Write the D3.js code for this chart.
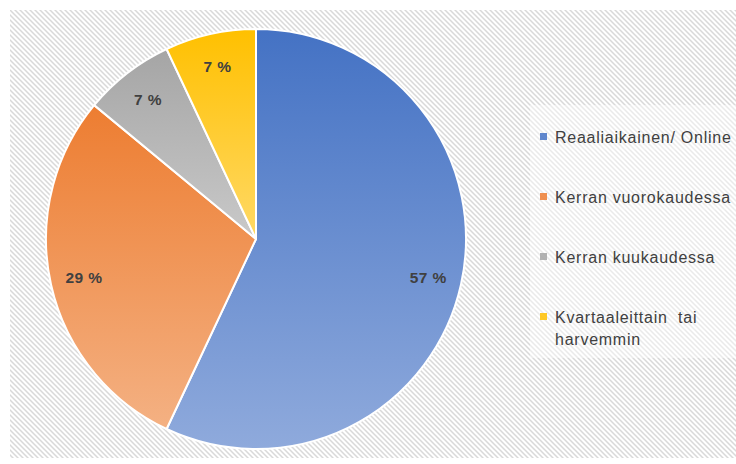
<!DOCTYPE html>
<html>
<head>
<meta charset="utf-8">
<script src="https://cdn.jsdelivr.net/npm/d3@7"></script>
<style>
  html, body { margin: 0; padding: 0; background: #ffffff; }
  svg { display: block; }
</style>
</head>
<body>
<svg id="chart" width="736" height="464"></svg>
<script>
// Reporting frequency shares
const categories = ["Reaaliaikainen/ Online", "Kerran vuorokaudessa", "Kerran kuukaudessa", "Kvartaaleittain  tai harvemmin"];
const legendLines = [["Reaaliaikainen/ Online"], ["Kerran vuorokaudessa"], ["Kerran kuukaudessa"], ["Kvartaaleittain  tai", "harvemmin"]];
const values = [57, 29, 7, 7];
const labels = ["57 %", "29 %", "7 %", "7 %"];
const topColors = ["#4472C4", "#ED7D31", "#A5A5A5", "#FFC000"];
const bottomColors = ["#8FAADC", "#F4B183", "#C9C9C9", "#FFD966"];

const svg = d3.select("#chart");
const defs = svg.append("defs");

// Diagonal hatch used for the plot background
const hatch = defs.append("pattern")
  .attr("id", "hatch")
  .attr("patternUnits", "userSpaceOnUse")
  .attr("width", 5).attr("height", 5);
hatch.append("rect").attr("width", 5).attr("height", 5).attr("fill", "#ffffff");
hatch.append("path")
  .attr("d", "M-1,-1 L6,6 M-1,4 L1,6 M4,-1 L6,1")
  .attr("stroke", "#d9d9d9").attr("stroke-width", 1.5);

// Vertical gradients, one per slice
categories.forEach((c, i) => {
  const g = defs.append("linearGradient")
    .attr("id", "grad" + i)
    .attr("x1", 0).attr("y1", 0).attr("x2", 0).attr("y2", 1);
  g.append("stop").attr("offset", "0%").attr("stop-color", topColors[i]);
  g.append("stop").attr("offset", "100%").attr("stop-color", bottomColors[i]);
});

svg.append("rect")
  .attr("x", 10).attr("y", 10).attr("width", 726).attr("height", 448)
  .attr("fill", "url(#hatch)");

const cx = 256, cy = 239, R = 210;

const pie = d3.pie().sort(null).value(d => d);
const arcs = pie(values);
const arc = d3.arc().innerRadius(0).outerRadius(R);
const labelArc = d3.arc().innerRadius(R * 0.84).outerRadius(R * 0.84);

const g = svg.append("g").attr("transform", `translate(${cx},${cy})`);

g.selectAll("path.slice")
  .data(arcs)
  .join("path")
  .attr("class", "slice")
  .attr("d", arc)
  .attr("fill", (d, i) => `url(#grad${i})`)
  .attr("stroke", "#ffffff")
  .attr("stroke-width", 2)
  .attr("stroke-linejoin", "round");

g.selectAll("text.lbl")
  .data(arcs)
  .join("text")
  .attr("class", "lbl")
  .attr("transform", d => `translate(${labelArc.centroid(d)})`)
  .attr("text-anchor", "middle")
  .attr("dy", "0.35em")
  .attr("font-family", "Liberation Sans, Arial, sans-serif")
  .attr("font-size", 15.5)
  .attr("font-weight", "bold")
  .attr("letter-spacing", 0.4)
  .attr("fill", "#404040")
  .text((d, i) => labels[i]);

// Legend
const legend = svg.append("g");
legend.append("rect")
  .attr("x", 530).attr("y", 105).attr("width", 206).attr("height", 253)
  .attr("fill", "#ffffff").attr("fill-opacity", 0.45);

const itemY = d3.scalePoint().domain(d3.range(categories.length)).range([137, 317]);

categories.forEach((c, i) => {
  const y = itemY(i);
  legend.append("rect")
    .attr("x", 540).attr("y", y - 4).attr("width", 7).attr("height", 7)
    .attr("fill", topColors[i]).attr("opacity", 0.85);
  const t = legend.append("text")
    .attr("x", 555).attr("y", y)
    .attr("font-family", "Liberation Sans, Arial, sans-serif")
    .attr("font-size", 16)
    .attr("letter-spacing", 0.75)
    .attr("fill", "#404040")
    .style("white-space", "pre");
  legendLines[i].forEach((line, k) => {
    t.append("tspan").attr("x", 555).attr("dy", k === 0 ? "0.35em" : "22").text(line);
  });
});
</script>
</body>
</html>
